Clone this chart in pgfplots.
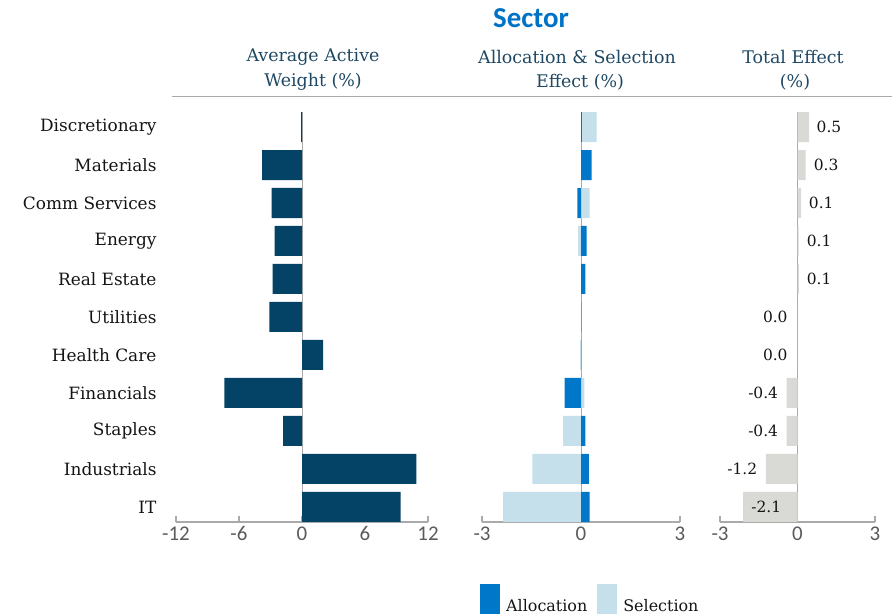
\documentclass[border=0pt]{standalone}
\usepackage{fontspec}
\setmainfont{DejaVu Serif}
\newfontfamily\tickfont{Carlito}
\usepackage{pgfplots}
\pgfplotsset{compat=1.18}
\definecolor{navy}{RGB}{4,66,102}
\definecolor{allocblue}{RGB}{0,119,200}
\definecolor{selblue}{RGB}{197,223,235}
\definecolor{totgray}{RGB}{217,217,213}
\definecolor{axisgray}{RGB}{170,170,170}
\definecolor{tickgray}{RGB}{90,90,90}
\definecolor{hdr}{RGB}{30,72,100}
\definecolor{titleblue}{RGB}{0,114,198}
\definecolor{catblack}{RGB}{20,20,20}
\begin{document}
\begin{tikzpicture}[x=1bp,y=1bp]
\path[use as bounding box] (0bp,0bp) rectangle (896bp,614bp);
\pgfplotsset{panel/.style={
  scale only axis, anchor=south west, height=410bp,
  ymin=-0.395, ymax=10.395,
  axis x line*=bottom, axis y line*=left,
  y axis line style={draw=none},
  x axis line style={draw=axisgray, line width=1.3bp},
  xtick align=inside, major tick length=6bp,
  x tick style={axisgray, line width=1.3bp},
  ytick style={draw=none},
  xticklabel style={font=\tickfont\fontsize{21}{24}\selectfont, text=tickgray, yshift=-1bp},
  /pgf/number format/assume math mode=true,
  xbar, bar width=30bp, bar shift=0pt,
  extra x ticks={0}, extra x tick labels={},
  extra x tick style={grid=major, major grid style={axisgray, line width=1bp}, x tick style={draw=none}},
}}
% Panel 1
\begin{axis}[panel, at={(176bp,92bp)}, width=252bp,
  xmin=-12, xmax=12, xtick={-12,-6,0,6,12},
  ytick={0,...,10},
  yticklabels={IT,Industrials,Staples,Financials,Health Care,Utilities,Real Estate,Energy,Comm Services,Materials,Discretionary},
  yticklabel style={font=\fontsize{17}{20}\selectfont, text=catblack, xshift=-10bp},
]
\addplot[fill=navy, draw=none] coordinates {(9.4,0) (10.9,1) (-1.8,2) (-7.4,3) (2.0,4) (-3.1,5) (-2.8,6) (-2.6,7) (-2.9,8) (-3.8,9) (-0.08,10)};
\end{axis}
% Panel 2
\begin{axis}[panel, at={(482bp,92bp)}, width=198bp,
  xmin=-3, xmax=3, xtick={-3,0,3}, ytick=\empty,
  legend style={at={(-0.01,-0.234)}, anchor=south west, draw=none, fill=none, inner sep=0pt,
    legend columns=2, font=\fontsize{16}{19}\selectfont, text=catblack,
    /tikz/every odd column/.append style={column sep=4bp},
    /tikz/every even column/.append style={column sep=8bp}},
  legend cell align=left,
  legend image code/.code={\fill[#1] (0bp,-12bp) rectangle (20bp,22bp);},
]
\addplot[fill=selblue, draw=none, forget plot] coordinates {(-2.36,0) (-1.47,1) (-0.54,2) (0.10,3) (-0.03,4) (0,5) (0.01,6) (-0.09,7) (0.26,8) (0,9) (0.47,10)};
\addplot[fill=allocblue, draw=none] coordinates {(0.26,0) (0.24,1) (0.13,2) (-0.50,3) (0,4) (0.01,5) (0.13,6) (0.17,7) (-0.11,8) (0.32,9) (0.03,10)};
\addlegendentry{Allocation}
\addlegendimage{fill=selblue, draw=none}
\addlegendentry{Selection}
\end{axis}
% Panel 3
\begin{axis}[panel, at={(720bp,92bp)}, width=155bp,
  xmin=-3, xmax=3, xtick={-3,0,3}, ytick=\empty,
]
\addplot[fill=totgray, draw=none] coordinates {(-2.11,0) (-1.22,1) (-0.42,2) (-0.42,3) (0,4) (0,5) (0.05,6) (0.04,7) (0.14,8) (0.31,9) (0.45,10)};
\addplot[xbar=0pt, draw=none, fill=none, bar width=0pt, nodes near coords, point meta=explicit symbolic,
  every node near coord/.style={anchor=center, font=\fontsize{15.5}{18}\selectfont, text=catblack}]
  table[meta=lab] {
x y lab
-1.21 0 -2.1
-2.14 1 -1.2
-1.33 2 -0.4
-1.33 3 -0.4
-0.86 4 0.0
-0.86 5 0.0
0.84 6 0.1
0.84 7 0.1
0.92 8 0.1
1.11 9 0.3
1.22 10 0.5
};
\end{axis}
% Headers
\node[font=\tickfont\bfseries\fontsize{29}{32}\selectfont, text=titleblue] at (531bp,596bp) {Sector};
\node[font=\fontsize{17.5}{20}\selectfont, text=hdr] at (313bp,557bp) {Average Active};
\node[font=\fontsize{17.5}{20}\selectfont, text=hdr] at (313bp,532bp) {Weight (\%)};
\node[font=\fontsize{17.5}{20}\selectfont, text=hdr] at (577bp,557bp) {Allocation \& Selection};
\node[font=\fontsize{17.5}{20}\selectfont, text=hdr] at (580bp,532bp) {Effect (\%)};
\node[font=\fontsize{17.5}{20}\selectfont, text=hdr] at (793bp,557bp) {Total Effect};
\node[font=\fontsize{17.5}{20}\selectfont, text=hdr] at (795bp,532bp) {(\%)};
\draw[axisgray, line width=1bp] (172bp,517bp) -- (892bp,517bp);
\end{tikzpicture}
\end{document}
